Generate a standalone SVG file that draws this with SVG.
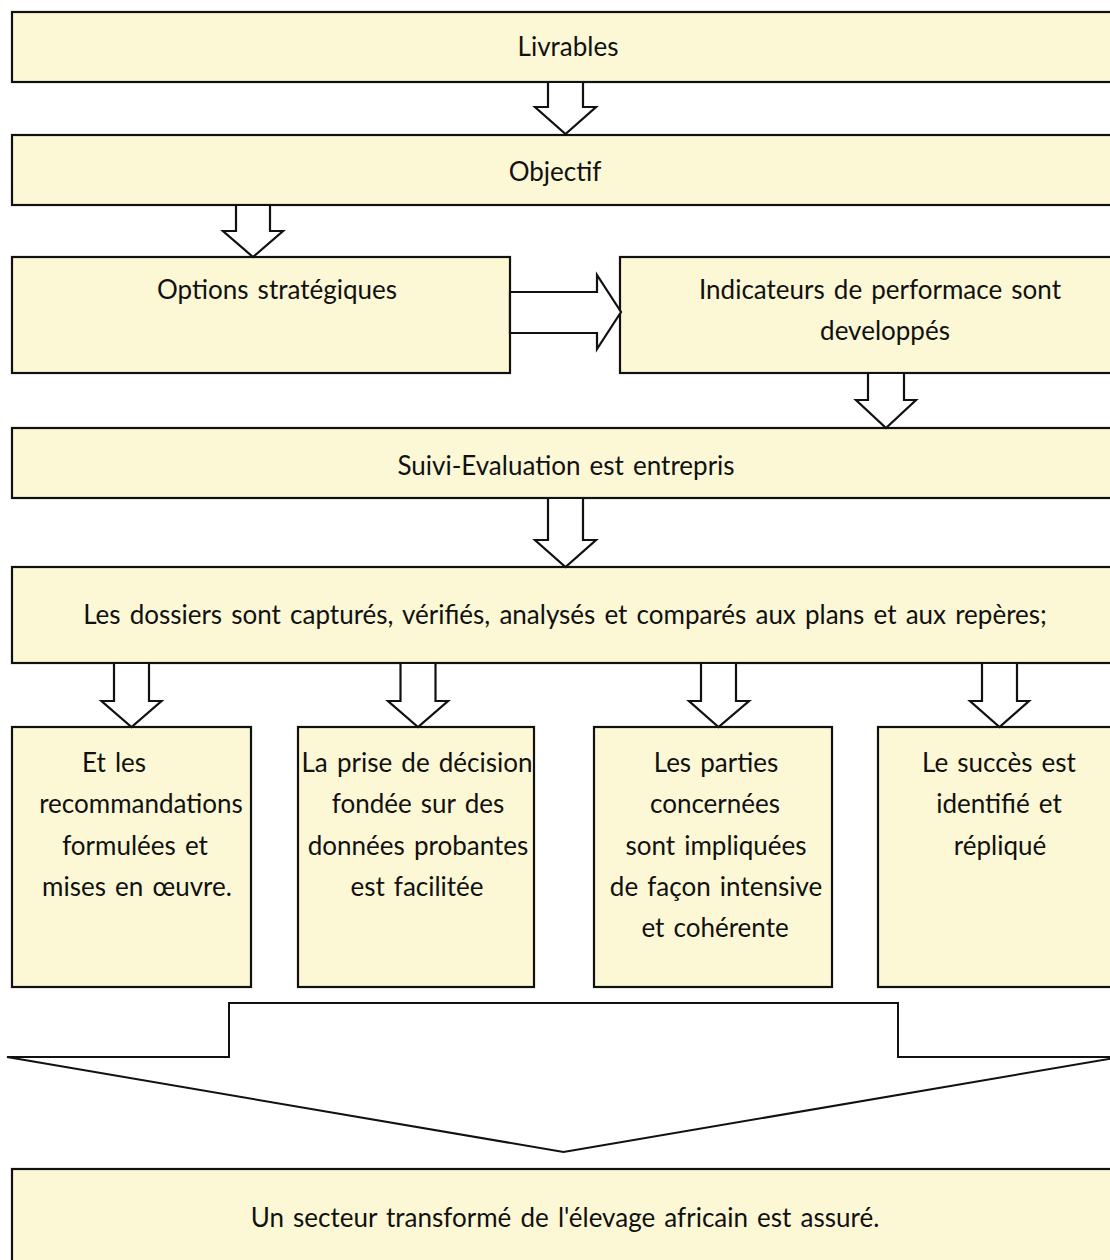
<svg xmlns="http://www.w3.org/2000/svg" width="1110" height="1260" viewBox="0 0 1110 1260">
  <style>
    .box { fill: #FCF8D6; stroke: #111; stroke-width: 2.2; }
    .arrow { fill: #FFFFFF; stroke: #111; stroke-width: 2.2; stroke-linejoin: miter; }
    .big { fill: #FFFFFF; stroke: #111; stroke-width: 2; }
    text { font-family: Lato, "Liberation Sans", sans-serif; font-size: 26px; word-spacing: 2.5px; fill: #111; text-anchor: middle; }
  </style>
  <rect width="1110" height="1260" fill="#FFFFFF"/>

  <g id="livrables">
    <rect class="box" x="12" y="12" width="1110" height="70"/>
    <text x="568" y="56">Livrables</text>
  </g>

  <g id="objectif">
    <rect class="box" x="12" y="135" width="1110" height="70"/>
    <text x="555" y="181">Objectif</text>
  </g>

  <g id="options">
    <rect class="box" x="12" y="257" width="498" height="116"/>
    <text x="277" y="299">Options stratégiques</text>
  </g>

  <g id="indicateurs">
    <rect class="box" x="620" y="257" width="500" height="116"/>
    <text x="880" y="299">Indicateurs de performace sont</text>
    <text x="885" y="340">developpés</text>
  </g>

  <g id="suivi">
    <rect class="box" x="12" y="428" width="1110" height="70"/>
    <text x="566" y="475">Suivi-Evaluation est entrepris</text>
  </g>

  <g id="dossiers">
    <rect class="box" x="12" y="567" width="1110" height="96"/>
    <text x="565" y="624">Les dossiers sont capturés, vérifiés, analysés et comparés aux plans et aux repères;</text>
  </g>

  <g id="recommandations">
    <rect class="box" x="12" y="727" width="239" height="260"/>
    <text x="114" y="772">Et les</text>
    <text x="141" y="813">recommandations</text>
    <text x="135" y="855">formulées et</text>
    <text x="137" y="896">mises en œuvre.</text>
  </g>

  <g id="decision">
    <rect class="box" x="298" y="727" width="236" height="260"/>
    <text x="417" y="772">La prise de décision</text>
    <text x="418" y="813">fondée sur des</text>
    <text x="418" y="855">données probantes</text>
    <text x="417" y="896">est facilitée</text>
  </g>

  <g id="parties">
    <rect class="box" x="594" y="727" width="238" height="260"/>
    <text x="716" y="772">Les parties</text>
    <text x="715" y="813">concernées</text>
    <text x="716" y="855">sont impliquées</text>
    <text x="716" y="896">de façon intensive</text>
    <text x="715" y="937">et cohérente</text>
  </g>

  <g id="succes">
    <rect class="box" x="878" y="727" width="242" height="260"/>
    <text x="999" y="772">Le succès est</text>
    <text x="999" y="813">identifié et</text>
    <text x="1000" y="855">répliqué</text>
  </g>

  <g id="secteur">
    <rect class="box" x="12" y="1169" width="1110" height="110"/>
    <text x="565" y="1227">Un secteur transformé de l'élevage africain est assuré.</text>
  </g>

  <g id="connectors">
    <!-- Livrables to Objectif -->
    <polygon class="arrow" points="548,82 583,82 583,107 596,107 565.5,134 535,107 548,107"/>
    <!-- Objectif to Options stratégiques -->
    <polygon class="arrow" points="236,205 270,205 270,231 283,231 253,257 223,231 236,231"/>
    <!-- Options stratégiques to Indicateurs -->
    <polygon class="arrow" points="510,292 597,292 597,275 621,312 597,349 597,333 510,333"/>
    <!-- Indicateurs to Suivi-Evaluation -->
    <polygon class="arrow" points="868,373 904,373 904,400 916,400 886,428 856,400 868,400"/>
    <!-- Suivi-Evaluation to dossiers -->
    <polygon class="arrow" points="548,498 583,498 583,540 596,540 565.5,567 535,540 548,540"/>
    <!-- dossiers to the four outcomes -->
    <polygon class="arrow" points="114,663 149,663 149,701 161.5,701 131.5,727 101.5,701 114,701"/>
    <polygon class="arrow" points="400.5,663 435.5,663 435.5,701 448,701 418,727 388,701 400.5,701"/>
    <polygon class="arrow" points="701,663 736,663 736,701 749,701 718.5,727 689,701 701,701"/>
    <polygon class="arrow" points="982,663 1017,663 1017,701 1029,701 999.5,727 970,701 982,701"/>
    <!-- outcomes converge to the final result -->
    <polygon class="big" points="229,1003 898,1003 898,1057 1120,1057 563.5,1152 7,1057 229,1057"/>
  </g>
</svg>
